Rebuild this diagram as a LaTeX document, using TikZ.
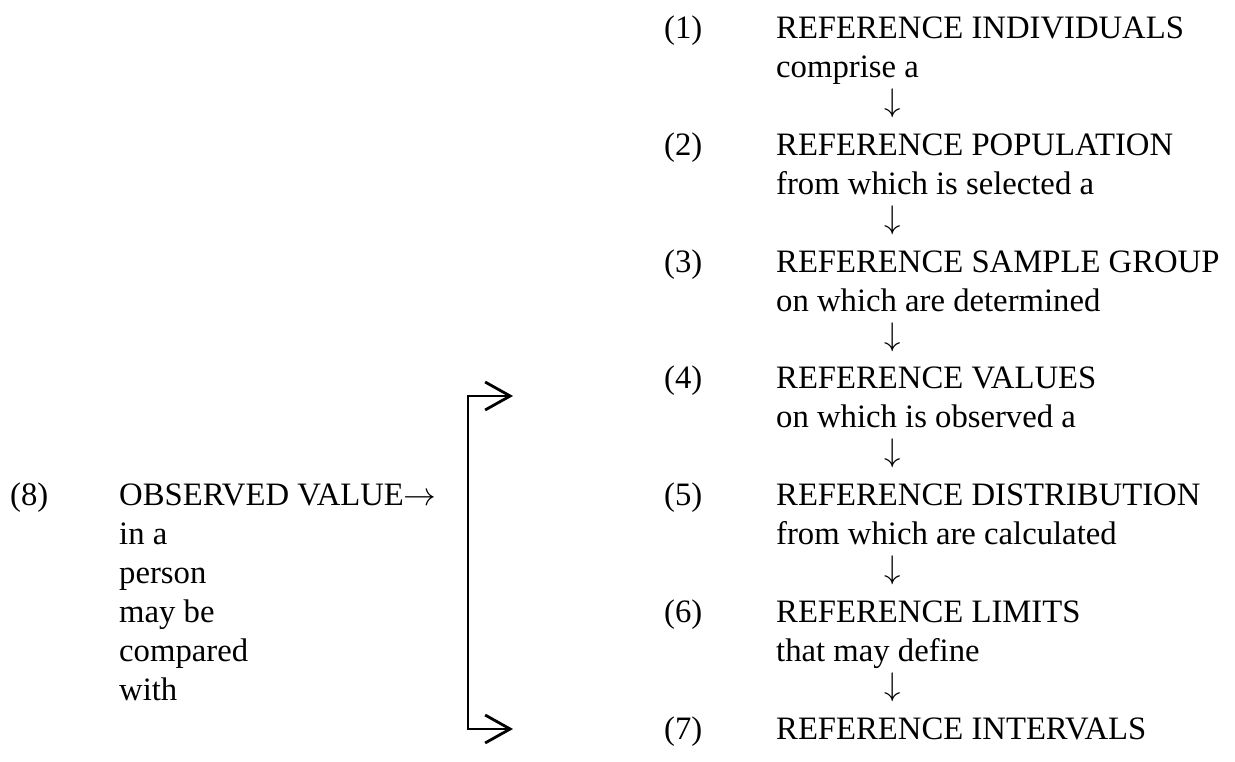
\RequirePackage{fix-cm}
\documentclass[tikz,border=0pt]{standalone}
\usepackage{fontspec}
\setmainfont{Liberation Serif}
\usetikzlibrary{positioning,arrows.meta}

\begin{document}
\begin{tikzpicture}[x=1pt,y=-1pt, every node/.style={font=\fontsize{32.7}{38}\selectfont, inner sep=0pt, anchor=base west}]
\useasboundingbox (0,0) rectangle (1235,762);
% right column: numbered items
\foreach \n/\t in {1/INDIVIDUALS,2/POPULATION,3/SAMPLE GROUP,4/VALUES,5/DISTRIBUTION,6/LIMITS,7/INTERVALS} {
    \node (num\n) at (664, 38.8+116.7*\n-116.7) {(\n)};
    \node (item\n) at (776, 38.8+116.7*\n-116.7) {REFERENCE \t};
}
% linking phrases and down arrows
\foreach \n/\t in {1/comprise a,2/from which is selected a,3/on which are determined,4/on which is observed a,5/from which are calculated,6/that may define} {
    \node (link\n) at (776, 77.7+116.7*\n-116.7) {\t};
    \node[anchor=base] (down\n) at (893, 111.6+116.7*\n-116.7) {$\downarrow$};
}
% left column
\node (num8) at (10, 505.6) {(8)};
\node (obs) at (119, 505.6) {OBSERVED VALUE$\rightarrow$};
\foreach \t [count=\i] in {in a,person,may be,compared,with}
    \node (obs\i) at (119, 505.6+38.9*\i) {\t};
% bracket
\coordinate (topcorner) at (468,396);
\coordinate (botcorner) at (468,729);
\coordinate (toptip) at (513,396);
\coordinate (bottip) at (513,729);
\draw[line width=2.8pt, {Straight Barb[length=25pt,width=28pt]}-{Straight Barb[length=25pt,width=28pt]}] (toptip) -- (topcorner) -- (botcorner) -- (bottip);
\end{tikzpicture}
\end{document}
